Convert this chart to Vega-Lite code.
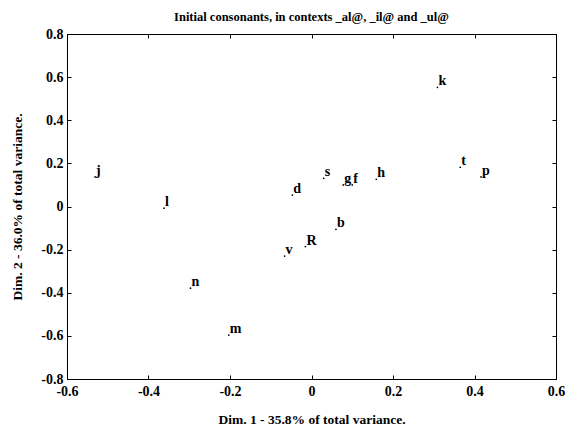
{
  "$schema": "https://vega.github.io/schema/vega-lite/v6.json",
  "width": 489,
  "height": 345,
  "autosize": "none",
  "padding": {"left": 67, "top": 34, "right": 11, "bottom": 49},
  "background": "white",
  "config": {
    "view": {"stroke": "black", "strokeWidth": 1},
    "font": "Liberation Serif",
    "axis": {
      "grid": false,
      "domainColor": "black",
      "tickColor": "black",
      "tickSize": -4,
      "labelColor": "black",
      "labelFont": "Liberation Serif",
      "labelFontWeight": "bold",
      "labelFontSize": 14,
      "titleFont": "Liberation Serif",
      "titleFontSize": 13.5,
      "titleFontWeight": "bold",
      "titleColor": "black"
    }
  },
  "title": {
    "text": "Initial consonants, in contexts _al@, _il@ and _ul@",
    "font": "Liberation Serif",
    "fontSize": 12.5,
    "fontWeight": "bold",
    "color": "black",
    "offset": 4
  },
  "data": {
    "values": [
      {"label": "j", "x": -0.531, "y": 0.137},
      {"label": "l", "x": -0.362, "y": -0.008},
      {"label": "d", "x": -0.047, "y": 0.053},
      {"label": "s", "x": 0.030, "y": 0.131},
      {"label": "g", "x": 0.078, "y": 0.100},
      {"label": "f", "x": 0.100, "y": 0.100},
      {"label": "h", "x": 0.159, "y": 0.126},
      {"label": "b", "x": 0.060, "y": -0.106},
      {"label": "R", "x": -0.015, "y": -0.186},
      {"label": "v", "x": -0.066, "y": -0.230},
      {"label": "n", "x": -0.297, "y": -0.379},
      {"label": "m", "x": -0.203, "y": -0.596},
      {"label": "k", "x": 0.309, "y": 0.553},
      {"label": "t", "x": 0.365, "y": 0.182},
      {"label": "p", "x": 0.416, "y": 0.137}
    ]
  },
  "resolve": {"axis": {"x": "independent", "y": "independent"}},
  "layer": [
    {
      "mark": {"type": "point", "filled": true, "size": 3, "color": "black", "opacity": 1},
      "encoding": {
        "x": {
          "field": "x", "type": "quantitative",
          "scale": {"domain": [-0.6, 0.6], "nice": false, "zero": false},
          "axis": {
            "orient": "bottom",
            "values": [-0.6, -0.4, -0.2, 0, 0.2, 0.4, 0.6],
            "labelExpr": "'' + datum.value",
            "labelPadding": 9,
            "labelFlush": false,
            "title": "Dim. 1 - 35.8% of total variance.",
            "titlePadding": 14
          }
        },
        "y": {
          "field": "y", "type": "quantitative",
          "scale": {"domain": [-0.8, 0.8], "nice": false, "zero": false},
          "axis": {
            "orient": "left",
            "values": [-0.8, -0.6, -0.4, -0.2, 0, 0.2, 0.4, 0.6, 0.8],
            "labelExpr": "'' + datum.value",
            "labelPadding": 8,
            "labelFlush": false,
            "title": "Dim. 2 - 36.0% of total variance.",
            "titlePadding": 16
          }
        }
      }
    },
    {
      "mark": {"type": "text", "align": "left", "baseline": "alphabetic", "dx": 1, "dy": -2, "font": "Liberation Serif", "fontWeight": "bold", "fontSize": 14, "color": "black"},
      "encoding": {
        "x": {
          "field": "x", "type": "quantitative",
          "axis": {"orient": "top", "values": [-0.6, -0.4, -0.2, 0, 0.2, 0.4, 0.6], "labels": false, "title": null}
        },
        "y": {
          "field": "y", "type": "quantitative",
          "axis": {"orient": "right", "values": [-0.8, -0.6, -0.4, -0.2, 0, 0.2, 0.4, 0.6, 0.8], "labels": false, "title": null}
        },
        "text": {"field": "label"}
      }
    }
  ]
}
